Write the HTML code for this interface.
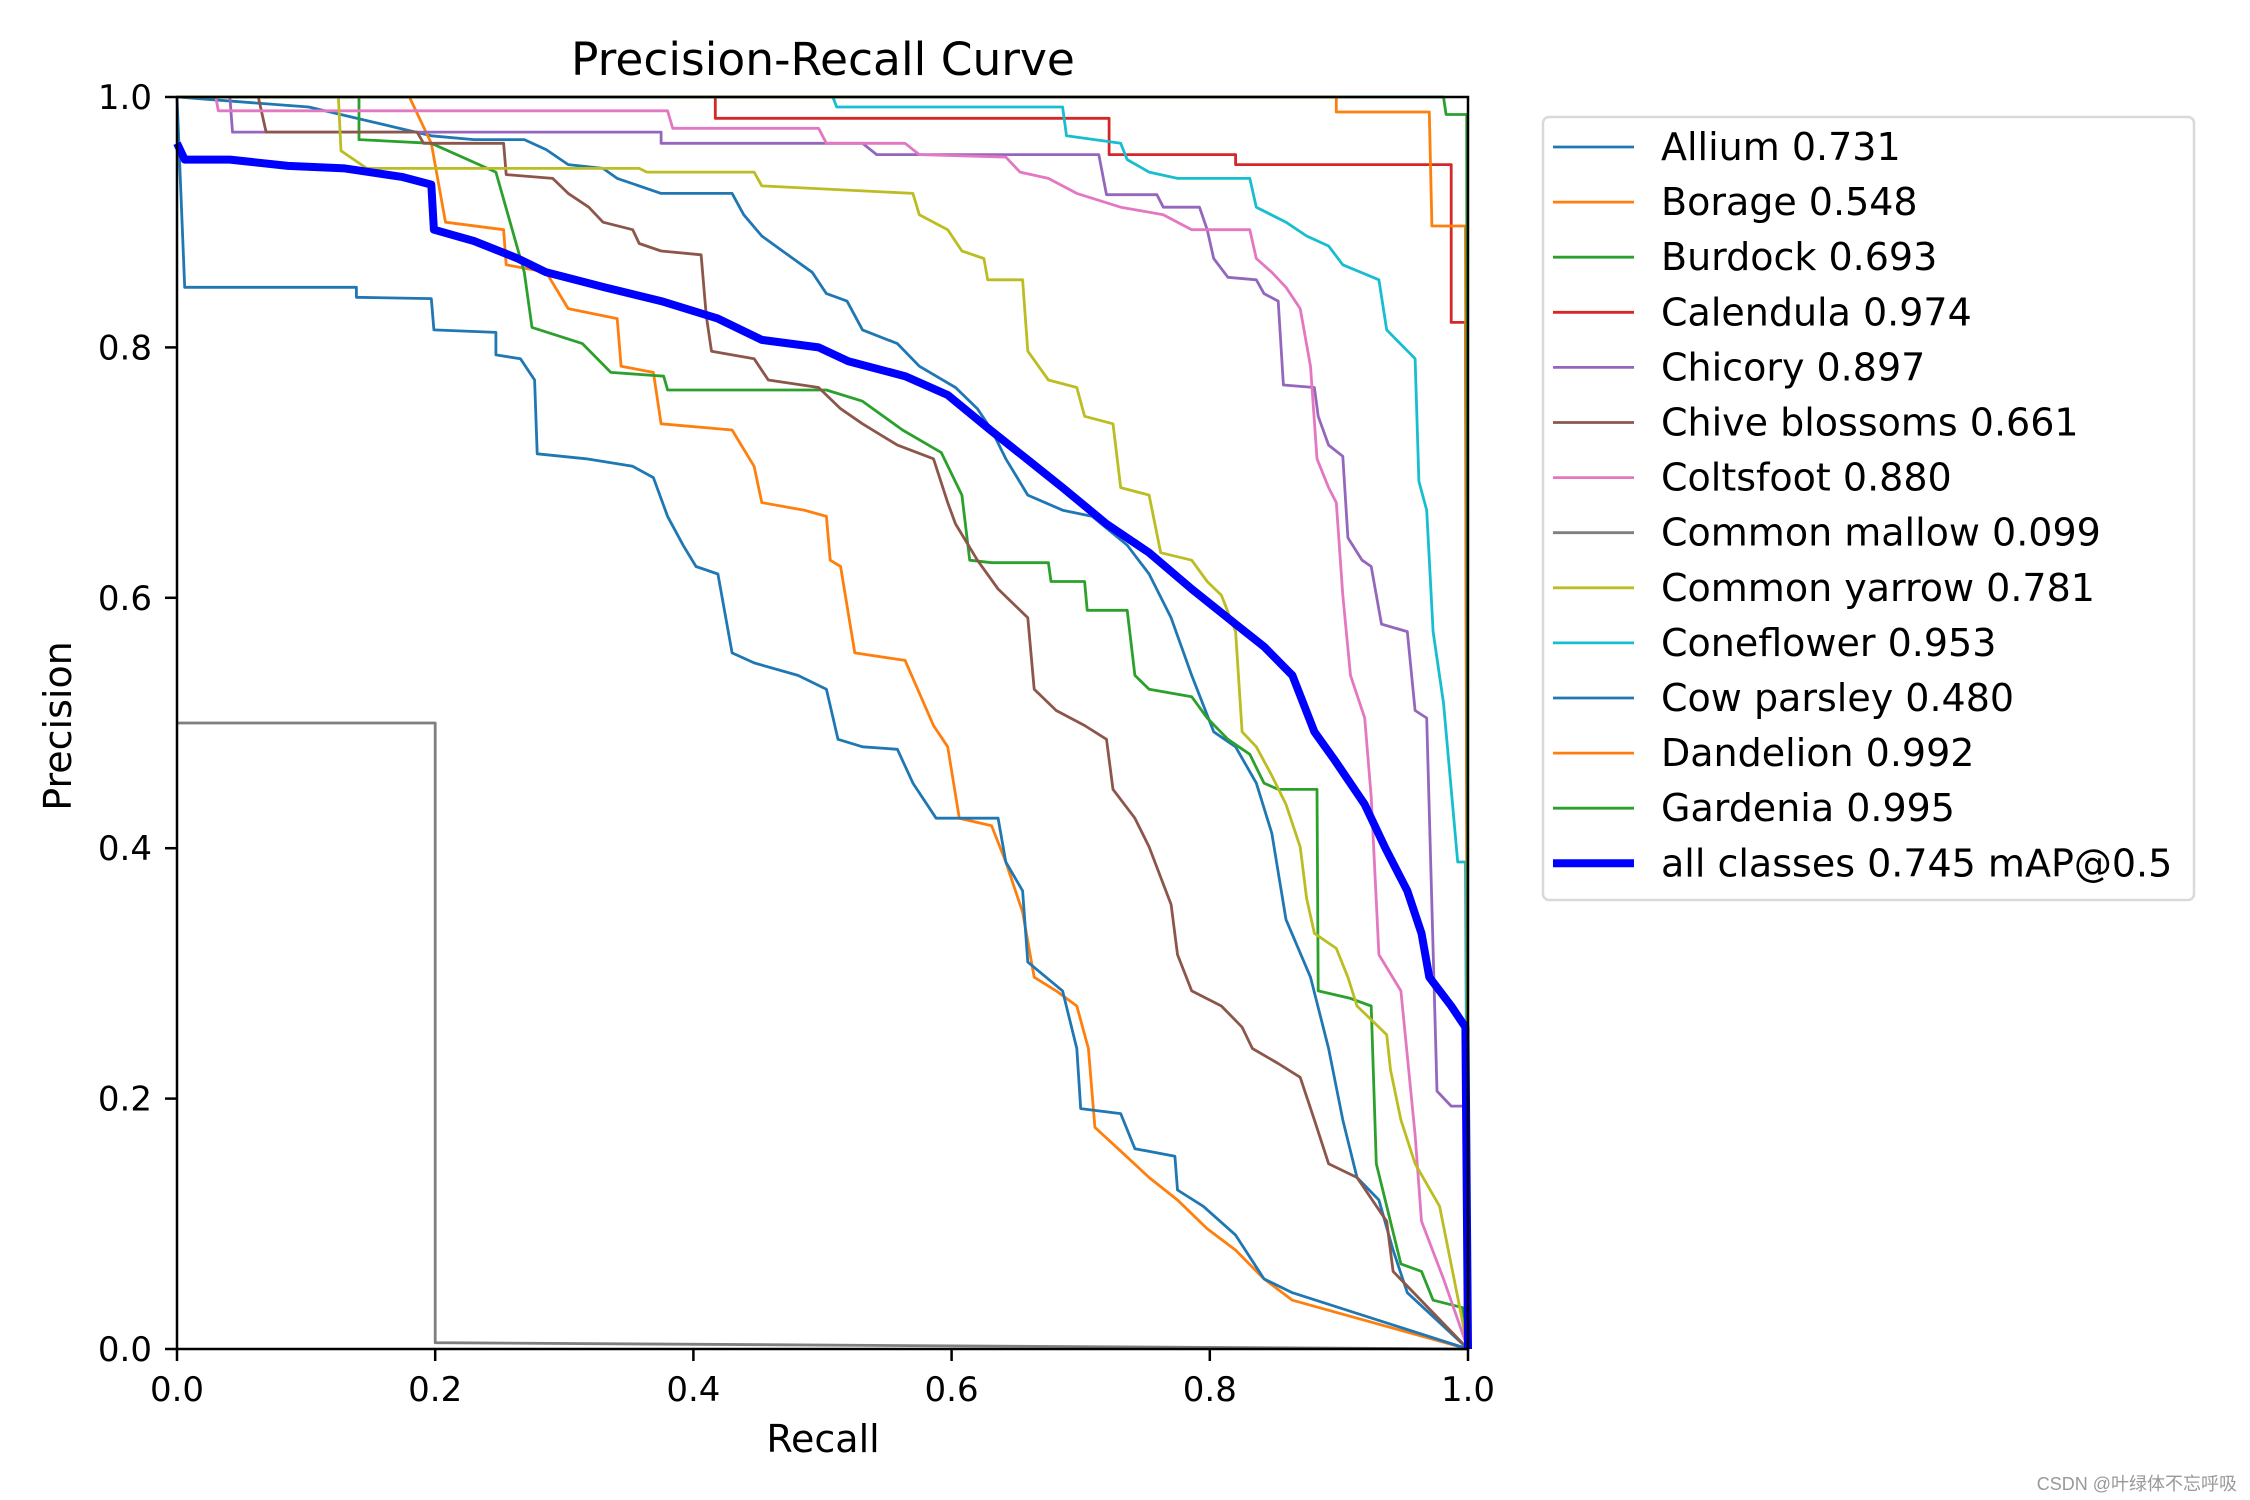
<!DOCTYPE html>
<html><head><meta charset="utf-8"><style>
html,body{margin:0;padding:0;background:#fff;}
svg{display:block;font-family:"DejaVu Sans","Liberation Sans",sans-serif;}
</style></head><body>
<svg id="chart" width="2250" height="1500" viewBox="0 0 2250 1500" xmlns="http://www.w3.org/2000/svg">
<rect width="2250" height="1500" fill="#fff"/>
<text x="823" y="75" font-size="45.5" text-anchor="middle">Precision-Recall Curve</text>
<text x="823" y="1452" font-size="38" text-anchor="middle">Recall</text>
<text x="0" y="0" font-size="38" text-anchor="middle" transform="translate(71,726) rotate(-90)">Precision</text>
<g id="series"></g>
<rect x="177" y="97" width="1291" height="1252" fill="none" stroke="#000" stroke-width="2.5"/>
<g id="ticks"></g>
<g id="legend"></g>
<text x="2237" y="1490" font-size="18" fill="#999" text-anchor="end" font-family="Liberation Sans, Noto Sans CJK SC, sans-serif">CSDN @叶绿体不忘呼吸</text>
</svg>
<script>
const tickValues = [0, 0.2, 0.4, 0.6, 0.8, 1.0];
const tickLabels = ["0.0", "0.2", "0.4", "0.6", "0.8", "1.0"];
const seriesNames = ["Allium 0.731","Borage 0.548","Burdock 0.693","Calendula 0.974","Chicory 0.897","Chive blossoms 0.661","Coltsfoot 0.880","Common mallow 0.099","Common yarrow 0.781","Coneflower 0.953","Cow parsley 0.480","Dandelion 0.992","Gardenia 0.995","all classes 0.745 mAP@0.5"];
const alliumR = [0,.102,.197,.230,.269,.286,.303,.330,.341,.375,.430,.439,.453,.469,.492,.503,.519,.531,.558,.575,.603,.620,.631,.642,.659,.686,.709,.736,.753,.770,.786,.803,.820,.836,.848,.859,.878,.892,.903,.914,.931,.942,.953,1];
const alliumP = [1,.992,.969,.966,.966,.958,.946,.943,.935,.923,.923,.906,.889,.877,.860,.843,.837,.814,.803,.785,.768,.751,.734,.711,.682,.670,.665,.642,.619,.584,.538,.493,.481,.452,.412,.343,.297,.240,.183,.137,.119,.079,.045,0];
const borageR = [0,.180,.197,.208,.253,.255,.286,.303,.341,.344,.369,.375,.430,.447,.453,.486,.503,.506,.514,.525,.564,.586,.597,.606,.631,.642,.655,.664,.681,.697,.706,.711,.729,.753,.775,.798,.820,.842,.864,1];
const borageP = [1,1,.963,.900,.894,.866,.860,.831,.823,.785,.780,.739,.734,.705,.676,.670,.665,.630,.625,.556,.550,.498,.481,.424,.418,.389,.349,.297,.286,.274,.240,.177,.160,.137,.119,.096,.079,.056,.039,0];
const burdockR = [0,.141,.141,.197,.247,.269,.275,.314,.336,.377,.380,.503,.531,.562,.592,.608,.614,.631,.675,.677,.703,.705,.736,.742,.753,.786,.798,.814,.831,.842,.853,.883,.884,.909,.925,.929,.948,.964,.973,.996,1];
const burdockP = [1,1,.966,.963,.940,.860,.816,.803,.780,.777,.766,.766,.757,.734,.716,.682,.630,.628,.628,.613,.613,.590,.590,.538,.527,.521,.504,.487,.475,.452,.447,.447,.286,.280,.274,.148,.068,.062,.039,.033,0];
const calendulaR = [0,.417,.417,.722,.722,.820,.820,.987,.987,.998,1];
const calendulaP = [1,1,.983,.983,.954,.954,.946,.946,.820,.820,0];
const chicoryR = [0,.041,.043,.375,.375,.531,.542,.714,.720,.759,.764,.792,.798,.803,.814,.836,.842,.853,.857,.881,.884,.892,.903,.907,.918,.925,.933,.953,.959,.968,.976,.987,.998,1];
const chicoryP = [1,1,.972,.972,.963,.963,.954,.954,.922,.922,.912,.912,.894,.871,.856,.854,.843,.837,.770,.768,.745,.722,.713,.648,.630,.625,.579,.573,.510,.504,.206,.194,.194,0];
const chiveR = [0,.063,.069,.186,.191,.253,.255,.291,.303,.319,.330,.353,.358,.375,.406,.410,.414,.447,.458,.497,.514,.531,.558,.586,.597,.603,.620,.636,.659,.664,.681,.703,.720,.725,.742,.753,.770,.775,.786,.809,.825,.833,.853,.870,.881,.892,.914,.937,.942,1];
const chiveP = [1,1,.972,.972,.963,.963,.938,.935,.923,.912,.900,.894,.883,.877,.874,.825,.797,.791,.774,.768,.751,.739,.722,.711,.676,.659,.630,.607,.584,.527,.510,.498,.487,.447,.424,.401,.355,.315,.286,.274,.257,.240,.228,.217,.183,.148,.137,.102,.062,0];
const coltsfootR = [0,.030,.032,.380,.384,.497,.503,.564,.575,.642,.653,.675,.697,.731,.764,.786,.831,.836,.848,.859,.870,.878,.883,.892,.898,.903,.909,.920,.925,.931,.948,.959,.964,.981,1];
const coltsfootP = [1,1,.989,.989,.975,.975,.963,.963,.954,.952,.940,.935,.923,.912,.906,.894,.894,.871,.860,.848,.831,.785,.711,.688,.676,.602,.538,.504,.441,.315,.286,.171,.102,.056,0];
const mallowR = [0,.2,.2,1];
const mallowP = [.5,.5,.005,0];
const yarrowR = [0,.125,.127,.147,.358,.364,.447,.453,.570,.575,.597,.608,.625,.628,.655,.659,.675,.697,.703,.725,.731,.753,.762,.786,.798,.809,.820,.825,.836,.848,.859,.870,.875,.881,.898,.907,.914,.937,.940,.948,.959,.978,1];
const yarrowP = [1,1,.957,.943,.943,.940,.940,.929,.923,.906,.894,.877,.871,.854,.854,.797,.774,.768,.745,.739,.688,.682,.636,.630,.613,.602,.573,.493,.481,.458,.435,.401,.360,.332,.320,.297,.274,.251,.223,.183,.148,.114,0];
const coneflowerR = [0,.508,.511,.686,.689,.731,.736,.753,.775,.831,.836,.859,.875,.892,.903,.931,.937,.959,.962,.968,.973,.981,.992,.998,1];
const coneflowerP = [1,1,.992,.992,.969,.963,.950,.940,.935,.935,.912,.900,.889,.881,.866,.854,.814,.791,.693,.670,.573,.516,.389,.389,0];
const cowR = [0,.006,.139,.139,.197,.199,.247,.247,.266,.277,.279,.317,.353,.369,.380,.392,.402,.419,.430,.447,.481,.503,.512,.531,.558,.570,.588,.636,.642,.655,.659,.686,.697,.700,.731,.742,.773,.775,.795,.820,.842,.864,1];
const cowP = [1,.848,.848,.840,.839,.814,.812,.794,.791,.774,.715,.711,.705,.696,.665,.642,.625,.619,.556,.548,.538,.527,.487,.481,.479,.452,.424,.424,.389,.366,.309,.286,.240,.192,.188,.160,.154,.127,.114,.091,.056,.045,0];
const dandelionR = [0,.898,.898,.970,.972,.998,1];
const dandelionP = [1,1,.988,.988,.897,.897,0];
const gardeniaR = [0,.981,.983,.999,1];
const gardeniaP = [1,1,.986,.986,0];
const allR = [0,.006,.041,.086,.130,.175,.197,.199,.230,.264,.286,.331,.375,.419,.453,.497,.520,.564,.597,.630,.658,.686,.720,.753,.786,.820,.842,.864,.881,.897,.920,.936,.953,.964,.970,.987,.998,1];
const allP = [.963,.95,.95,.945,.943,.936,.93,.894,.885,.871,.86,.848,.837,.823,.806,.80,.789,.777,.762,.734,.711,.688,.659,.636,.607,.579,.561,.538,.493,.47,.435,.40,.366,.332,.297,.274,.257,0];

const X0=177, X1=1468, Y0=1349, Y1=97;
function xs(v){return X0+(X1-X0)*v;}
function ys(v){return Y0-(Y0-Y1)*v;}
const NS="http://www.w3.org/2000/svg";
const colors=["#1f77b4","#ff7f0e","#2ca02c","#d62728","#9467bd","#8c564b","#e377c2","#7f7f7f","#bcbd22","#17becf","#1f77b4","#ff7f0e","#2ca02c","#0000ff"];
const data=[[alliumR,alliumP],[borageR,borageP],[burdockR,burdockP],[calendulaR,calendulaP],[chicoryR,chicoryP],[chiveR,chiveP],[coltsfootR,coltsfootP],[mallowR,mallowP],[yarrowR,yarrowP],[coneflowerR,coneflowerP],[cowR,cowP],[dandelionR,dandelionP],[gardeniaR,gardeniaP],[allR,allP]];
const sg=document.getElementById('series');
data.forEach((d,i)=>{
  const pl=document.createElementNS(NS,'polyline');
  pl.setAttribute('points',d[0].map((r,k)=>xs(r).toFixed(1)+','+ys(d[1][k]).toFixed(1)).join(' '));
  pl.setAttribute('fill','none');
  pl.setAttribute('stroke',colors[i]);
  pl.setAttribute('stroke-width',i===13?8:2.8);
  pl.setAttribute('stroke-linejoin','round');
  
  
  sg.appendChild(pl);
});
const tg=document.getElementById('ticks');
tickValues.forEach((v,i)=>{
  const lx=document.createElementNS(NS,'line');
  lx.setAttribute('x1',xs(v));lx.setAttribute('x2',xs(v));lx.setAttribute('y1',Y0);lx.setAttribute('y2',Y0+12);
  lx.setAttribute('stroke','#000');lx.setAttribute('stroke-width','2.5');
  
  
  tg.appendChild(lx);
  const tx=document.createElementNS(NS,'text');
  tx.setAttribute('x',xs(v));tx.setAttribute('y',1401);tx.setAttribute('font-size','34');tx.setAttribute('text-anchor','middle');
  tx.textContent=tickLabels[i];
  
  
  tg.appendChild(tx);
  const ly=document.createElementNS(NS,'line');
  ly.setAttribute('x1',X0-12);ly.setAttribute('x2',X0);ly.setAttribute('y1',ys(v));ly.setAttribute('y2',ys(v));
  ly.setAttribute('stroke','#000');ly.setAttribute('stroke-width','2.5');
  
  
  tg.appendChild(ly);
  const ty=document.createElementNS(NS,'text');
  ty.setAttribute('x',152);ty.setAttribute('y',ys(v)+12);ty.setAttribute('font-size','34');ty.setAttribute('text-anchor','end');
  ty.textContent=tickLabels[i];
  
  
  tg.appendChild(ty);
});
const lg=document.getElementById('legend');
const box=document.createElementNS(NS,'rect');
box.setAttribute('x',1543);box.setAttribute('y',117);box.setAttribute('width',651);box.setAttribute('height',783);box.setAttribute('rx',6);
box.setAttribute('fill','#fff');box.setAttribute('fill-opacity','0.8');box.setAttribute('stroke','#d9d9d9');box.setAttribute('stroke-width','2.5');


lg.appendChild(box);
seriesNames.forEach((n,i)=>{
  const y=147+55.1*i;
  const l=document.createElementNS(NS,'line');
  l.setAttribute('x1',1553);l.setAttribute('x2',1634);l.setAttribute('y1',y);l.setAttribute('y2',y);
  l.setAttribute('stroke',colors[i]);l.setAttribute('stroke-width',i===13?8:2.8);
  
  
  lg.appendChild(l);
  const t=document.createElementNS(NS,'text');
  t.setAttribute('x',1661);t.setAttribute('y',y+13);t.setAttribute('font-size','38');
  t.textContent=n;
  
  
  lg.appendChild(t);
});
</script>
</body></html>
